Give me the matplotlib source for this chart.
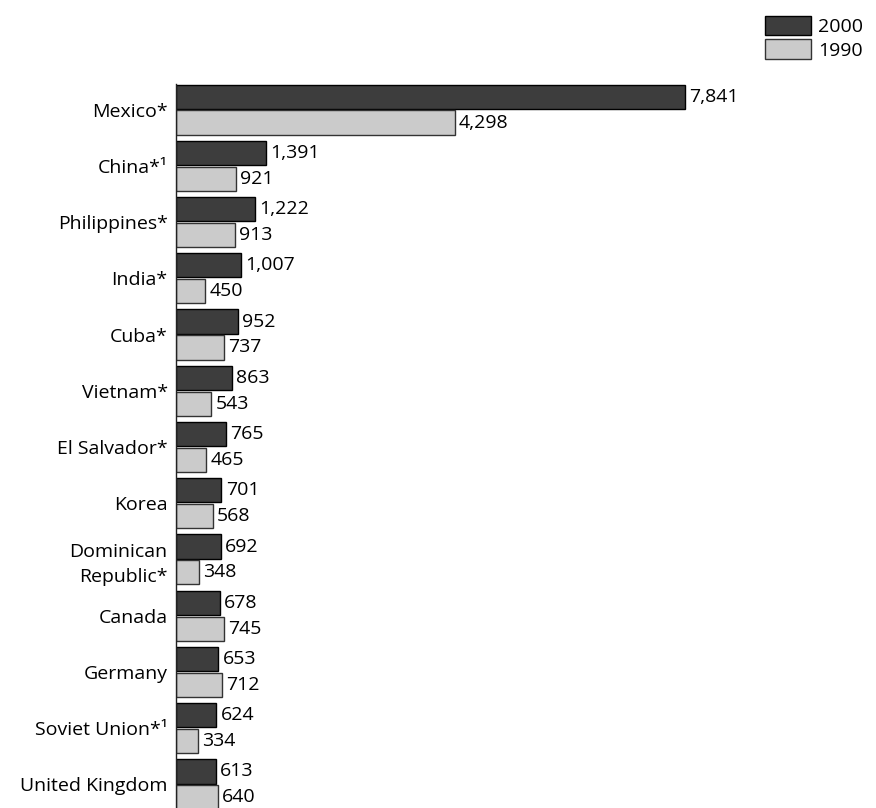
import matplotlib.pyplot as plt
import numpy as np

plt.rcParams['font.family'] = ['Open Sans', 'DejaVu Sans']

countries = ['Mexico*', 'China*¹', 'Philippines*', 'India*', 'Cuba*', 'Vietnam*',
             'El Salvador*', 'Korea', 'Dominican\nRepublic*', 'Canada', 'Germany',
             'Soviet Union*¹', 'United Kingdom']
y2000 = [7841, 1391, 1222, 1007, 952, 863, 765, 701, 692, 678, 653, 624, 613]
y1990 = [4298, 921, 913, 450, 737, 543, 465, 568, 348, 745, 712, 334, 640]

dark = '#3d3d3d'
light = '#cbcbcb'
fs = 14

y = np.arange(len(countries))
h = 0.43   # bar thickness
off = 0.23  # half the distance between the two bars of a group

fig = plt.figure(figsize=(8.76, 8.08), dpi=100)
ax = fig.add_axes([176 / 876, 0, 1 - 176 / 876, 1 - 84 / 808])

b1 = ax.barh(y - off, y2000, h, color=dark, edgecolor='black', linewidth=1.0, label='2000')
b2 = ax.barh(y + off, y1990, h, color=light, edgecolor='#333333', linewidth=1.0, label='1990')

ax.bar_label(b1, labels=[f'{v:,}' for v in y2000], padding=3, fontsize=fs)
ax.bar_label(b2, labels=[f'{v:,}' for v in y1990], padding=3, fontsize=fs)

ax.set_yticks(y, countries, fontsize=fs, linespacing=1.45)
ax.tick_params(axis='y', length=0, pad=6)
ax.set_xticks([])
ax.set_xlim(0, 700 / 0.0649)
ax.set_ylim(12.42, -0.455)

for s in ['top', 'right', 'bottom']:
    ax.spines[s].set_visible(False)
ax.spines['left'].set_color('#222222')
ax.spines['left'].set_linewidth(1.0)

fig.legend(handles=[b1, b2], loc='upper right', bbox_to_anchor=(1.003, 1.0),
           frameon=False, fontsize=fs, handlelength=2.4, handleheight=1.2,
           handletextpad=0.35, labelspacing=0.15, borderpad=0.3)

fig.savefig('out.png', dpi=100)
